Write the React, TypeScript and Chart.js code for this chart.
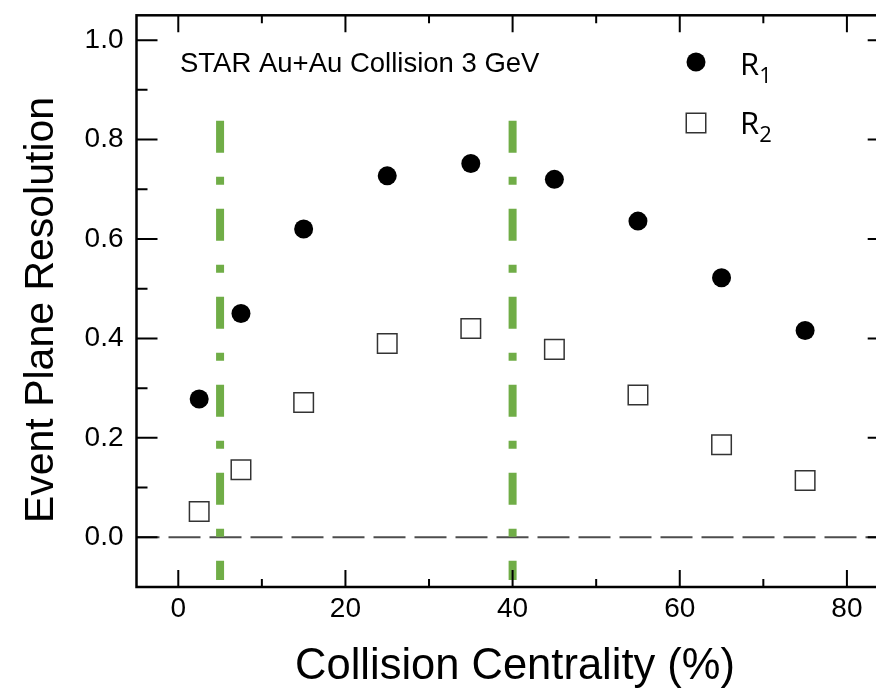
import React, { useEffect, useRef } from "react";
import { Chart, registerables } from "chart.js";

Chart.register(...registerables);

// ---- data ----
const centrality = [2.5, 7.5, 15, 25, 35, 45, 55, 65, 75];
const r1Values = [0.278, 0.45, 0.62, 0.727, 0.752, 0.72, 0.636, 0.522, 0.416];
const r2Values = [0.052, 0.136, 0.271, 0.39, 0.42, 0.378, 0.286, 0.186, 0.114];
const xMajorTicks = [0, 20, 40, 60, 80];
const xMinorTicks = [10, 30, 50, 70];
const yMajorTicks = [0, 0.2, 0.4, 0.6, 0.8, 1.0];
const yMinorTicks = [0.1, 0.3, 0.5, 0.7, 0.9];
const cutPositions = [5, 40];
const cutRange = [0.838, -0.086];
const zeroLineRange = [-5, 85];
const xRange = [-5, 85];
const yRange = [-0.1, 1.05];
const annotationText = "STAR Au+Au Collision 3 GeV";
const xTitle = "Collision Centrality (%)";
const yTitle = "Event Plane Resolution";
const legendLabels = [
  { main: "R", sub: "1" },
  { main: "R", sub: "2" },
];

const FONT = "'Liberation Sans', Arial, Helvetica, sans-serif";
const LEGEND_FONT = "'Open Sans', 'Liberation Sans', sans-serif";

const framePlugin = {
  id: "framePlugin",
  afterDraw(chart: any) {
    const { ctx, chartArea } = chart;
    const xs = chart.scales.x;
    const ys = chart.scales.y;
    const { left, right, top, bottom } = chartArea;
    ctx.save();
    // frame
    ctx.strokeStyle = "#000";
    ctx.lineWidth = 2.5;
    ctx.strokeRect(left, top, right - left, bottom - top);
    // ticks
    ctx.lineWidth = 2;
    const vTick = (vals: number[], len: number) => {
      vals.forEach((v) => {
        const px = xs.getPixelForValue(v);
        ctx.beginPath();
        ctx.moveTo(px, bottom);
        ctx.lineTo(px, bottom - len);
        ctx.moveTo(px, top);
        ctx.lineTo(px, top + len);
        ctx.stroke();
      });
    };
    const hTick = (vals: number[], len: number) => {
      vals.forEach((v) => {
        const py = ys.getPixelForValue(v);
        ctx.beginPath();
        ctx.moveTo(left, py);
        ctx.lineTo(left + len, py);
        ctx.moveTo(right, py);
        ctx.lineTo(right - len, py);
        ctx.stroke();
      });
    };
    vTick(xMajorTicks, 17);
    vTick(xMinorTicks, 8);
    hTick(yMajorTicks, 21);
    hTick(yMinorTicks, 11);

    // annotation
    ctx.fillStyle = "#000";
    ctx.font = `27.5px ${FONT}`;
    ctx.textAlign = "left";
    ctx.textBaseline = "alphabetic";
    ctx.fillText(annotationText, 180, 72);

    // legend
    const lx = 696;
    ctx.beginPath();
    ctx.arc(lx, 62, 9.5, 0, Math.PI * 2);
    ctx.fill();
    ctx.fillStyle = "#fff";
    ctx.fillRect(lx - 9.75, 123 - 9.75, 19.5, 19.5);
    ctx.strokeStyle = "#333";
    ctx.lineWidth = 1.5;
    ctx.strokeRect(lx - 9.75, 123 - 9.75, 19.5, 19.5);
    ctx.fillStyle = "#000";
    const baselines = [75, 134];
    legendLabels.forEach((lab, i) => {
      ctx.font = `31px ${LEGEND_FONT}`;
      ctx.fillText(lab.main, 740, baselines[i]);
      const w = ctx.measureText(lab.main).width;
      ctx.font = `22px ${LEGEND_FONT}`;
      ctx.fillText(lab.sub, 740 + w, baselines[i] + 8);
    });

    // axis titles
    ctx.font = `43.5px ${FONT}`;
    ctx.textAlign = "center";
    ctx.fillText(xTitle, 515, 679);
    ctx.save();
    ctx.font = `41px ${FONT}`;
    ctx.translate(53, 310);
    ctx.rotate(-Math.PI / 2);
    ctx.fillText(yTitle, 0, 0);
    ctx.restore();
    ctx.restore();
  },
};

const zeroPadding = (scale: any) => {
  scale.paddingTop = 0;
  scale.paddingBottom = 0;
  scale.paddingLeft = 0;
  scale.paddingRight = 0;
};

export default function App() {
  const ref = useRef<HTMLCanvasElement | null>(null);
  useEffect(() => {
    if (!ref.current) return;
    const datasets: any[] = [
      {
        label: "R1",
        data: centrality.map((x, i) => ({ x, y: r1Values[i] })),
        pointStyle: "circle",
        pointRadius: 9.5,
        pointBackgroundColor: "#000",
        pointBorderColor: "#000",
        pointBorderWidth: 0,
        showLine: false,
      },
      {
        label: "R2",
        data: centrality.map((x, i) => ({ x, y: r2Values[i] })),
        pointStyle: "rect",
        pointRadius: 13.8,
        pointBackgroundColor: "#fff",
        pointBorderColor: "#333",
        pointBorderWidth: 1.5,
        showLine: false,
      },
      ...cutPositions.map((c) => ({
        label: "cut" + c,
        data: cutRange.map((y) => ({ x: c, y })),
        showLine: true,
        pointRadius: 0,
        borderColor: "#70AD47",
        borderWidth: 8,
        borderDash: [32, 24, 8, 24],
        borderCapStyle: "butt",
      })),
      {
        label: "zero",
        data: zeroLineRange.map((x) => ({ x, y: 0 })),
        showLine: true,
        pointRadius: 0,
        borderColor: "#4d4d4d",
        borderWidth: 2,
        borderDash: [32, 9],
        borderDashOffset: 9,
      },
    ];
    const chart = new Chart(ref.current, {
      type: "scatter",
      data: { datasets },
      options: {
        animation: false,
        responsive: false,
        devicePixelRatio: 1,
        layout: { padding: { top: 12, left: 0, right: 0, bottom: 0 } },
        plugins: {
          legend: { display: false },
          tooltip: { enabled: false },
        },
        scales: {
          x: {
            type: "linear",
            min: xRange[0],
            max: xRange[1],
            grid: { display: false, drawTicks: false },
            border: { display: false },
            ticks: {
              color: "#000",
              font: { size: 28, family: FONT },
              padding: 5,
              maxRotation: 0,
            },
            afterBuildTicks: (scale: any) => {
              scale.ticks = xMajorTicks.map((value) => ({ value }));
            },
            afterFit: (scale: any) => {
              scale.height = 102;
              zeroPadding(scale);
            },
          },
          y: {
            type: "linear",
            min: yRange[0],
            max: yRange[1],
            grid: { display: false, drawTicks: false },
            border: { display: false },
            ticks: {
              color: "#000",
              font: { size: 28, family: FONT },
              padding: 13,
              callback: (v: any) => Number(v).toFixed(1),
            },
            afterBuildTicks: (scale: any) => {
              scale.ticks = yMajorTicks.map((value) => ({ value }));
            },
            afterFit: (scale: any) => {
              scale.width = 136.5;
              zeroPadding(scale);
            },
          },
        },
      } as any,
      plugins: [framePlugin],
    });
    return () => chart.destroy();
  }, []);
  return (
    <div
      style={{
        position: "fixed",
        left: 0,
        top: 0,
        width: 876,
        height: 689,
        overflow: "hidden",
        background: "#fff",
      }}
    >
      <canvas
        ref={ref}
        width={904}
        height={689}
        style={{ width: 904, height: 689, display: "block" }}
      />
    </div>
  );
}
